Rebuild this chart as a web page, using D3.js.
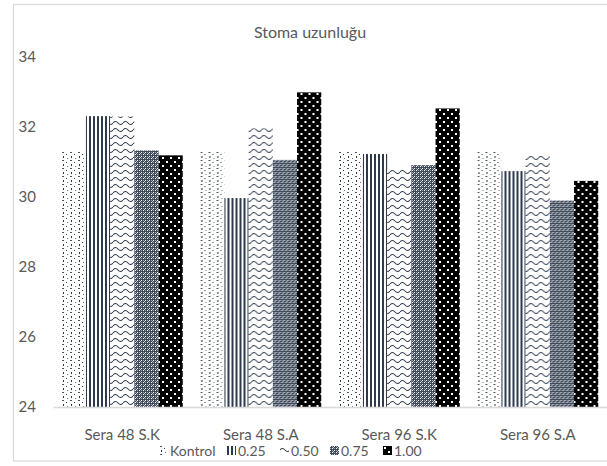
<!DOCTYPE html>
<html>
<head>
<meta charset="utf-8">
<script src="https://cdn.jsdelivr.net/npm/d3@7"></script>
<style>
  html, body { margin: 0; padding: 0; background: #fff; }
  svg { display: block; }
  text { font-family: Lato, "Open Sans", sans-serif; fill: #595959; }
</style>
</head>
<body>
<svg id="chart" width="607" height="466"></svg>
<script>
// Stoma length per greenhouse sample and dose
const categories = ["Sera 48 S.K", "Sera 48 S.A", "Sera 96 S.K", "Sera 96 S.A"];
const seriesNames = ["Kontrol", "0.25", "0.50", "0.75", "1.00"];
const kontrol = [31.30, 31.31, 31.31, 31.30];
const d025 = [32.31, 29.97, 31.23, 30.74];
const d050 = [32.30, 31.96, 30.77, 31.25];
const d075 = [31.33, 31.06, 30.91, 29.90];
const d100 = [31.19, 32.99, 32.53, 30.46];
const yTicks = [24, 26, 28, 30, 32, 34];
const title = "Stoma uzunluğu";

const seriesValues = [kontrol, d025, d050, d075, d100];

const svg = d3.select("#chart");
const defs = svg.append("defs");
const ink = "#2e3a4b";

// Fill patterns for each series
function makePattern(id, w, h, draw) {
  const p = defs.append("pattern")
    .attr("id", id).attr("patternUnits", "userSpaceOnUse")
    .attr("width", w).attr("height", h);
  draw(p);
}
function px(p, x, y, w, h, c) {
  p.append("rect").attr("x", x).attr("y", y).attr("width", w).attr("height", h).attr("fill", c);
}
makePattern("p0", 8, 8, p => {
  px(p, 0, 0, 8, 8, "#fff");
  px(p, 1, 0, 2, 1, "#4a5566");
  px(p, 5, 2, 1, 1, ink);
  px(p, 2, 4, 1, 2, ink);
  px(p, 6, 6, 1, 1, "#6b7482");
});
makePattern("p1", 4, 4, p => {
  px(p, 0, 0, 4, 4, "#fff");
  px(p, 0, 0, 2, 4, ink);
});
makePattern("p2", 10, 7, p => {
  px(p, 0, 0, 10, 7, "#fff");
  p.append("path").attr("d", "M0,4 Q2.5,1 5,4 T10,4")
    .attr("fill", "none").attr("stroke", ink).attr("stroke-width", 1.1);
});
makePattern("p3", 4, 4, p => {
  px(p, 0, 0, 4, 4, "#3f4a5b");
  px(p, 0, 0, 1, 1, "#fff");
  px(p, 2, 2, 1, 1, "#fff");
  px(p, 2, 0, 1, 1, "#9aa1ad");
  px(p, 0, 2, 1, 1, "#9aa1ad");
  px(p, 3, 1, 1, 1, "#c3c8d0");
});
makePattern("p4", 8, 8, p => {
  px(p, 0, 0, 8, 8, "#000");
  px(p, 1, 1, 2, 2, "#fff");
  px(p, 5, 5, 2, 2, "#fff");
});
const fills = ["url(#p0)", "url(#p1)", "url(#p2)", "url(#p3)", "url(#p4)"];

// Chart frame
svg.append("rect")
  .attr("x", 13.5).attr("y", 4.5).attr("width", 620).attr("height", 456.5)
  .attr("fill", "none").attr("stroke", "#d9d9d9").attr("stroke-width", 1.2);

const plot = { left: 53, right: 607, top: 57, bottom: 407 };

const x0 = d3.scaleBand().domain(categories).range([plot.left, plot.right]).padding(0);
const x1 = d3.scaleBand().domain(seriesNames)
  .range([8.75, x0.bandwidth() - 8.75]).padding(0);
const y = d3.scaleLinear().domain([24, 34]).range([plot.bottom, plot.top]);

// Title
svg.append("text")
  .attr("x", 310).attr("y", 38)
  .attr("text-anchor", "middle")
  .style("font-size", "16px")
  .text(title);

// Bars
const groups = svg.append("g").selectAll("g")
  .data(categories)
  .join("g")
  .attr("transform", c => `translate(${x0(c)},0)`);

groups.selectAll("rect")
  .data((c, ci) => seriesNames.map((s, si) => ({ s, si, v: seriesValues[si][ci] })))
  .join("rect")
  .attr("x", d => x1(d.s))
  .attr("width", x1.bandwidth())
  .attr("y", d => y(d.v))
  .attr("height", d => y(24) - y(d.v))
  .attr("fill", d => fills[d.si]);

// Y axis labels (no axis line)
const yAxis = d3.axisLeft(y).tickValues(yTicks).tickSize(0).tickPadding(0);
const gy = svg.append("g").attr("transform", "translate(36,0)").call(yAxis);
gy.select(".domain").remove();
gy.selectAll("text")
  .style("font-size", "15px")
  .style("font-family", "Lato, 'Open Sans', sans-serif")
  .attr("fill", "#595959");

// X axis
const xAxis = d3.axisBottom(x0).tickSize(0).tickPadding(0);
const gx = svg.append("g").attr("transform", `translate(0,${plot.bottom})`).call(xAxis);
gx.select(".domain").attr("stroke", "#d9d9d9").attr("stroke-width", 1.3);
gx.selectAll("text")
  .attr("y", 22)
  .style("font-size", "15px")
  .style("font-family", "Lato, 'Open Sans', sans-serif")
  .attr("fill", "#595959");

// Legend
const legendX = [159, 227, 280, 330, 383];
const legend = svg.append("g");
seriesNames.forEach((s, i) => {
  const g = legend.append("g").attr("transform", `translate(${legendX[i]},446)`);
  g.append("rect").attr("width", 9).attr("height", 9).attr("fill", fills[i]);
  g.append("text").attr("x", 11).attr("y", 9.5)
    .style("font-size", "14px").text(s);
});
</script>
</body>
</html>
